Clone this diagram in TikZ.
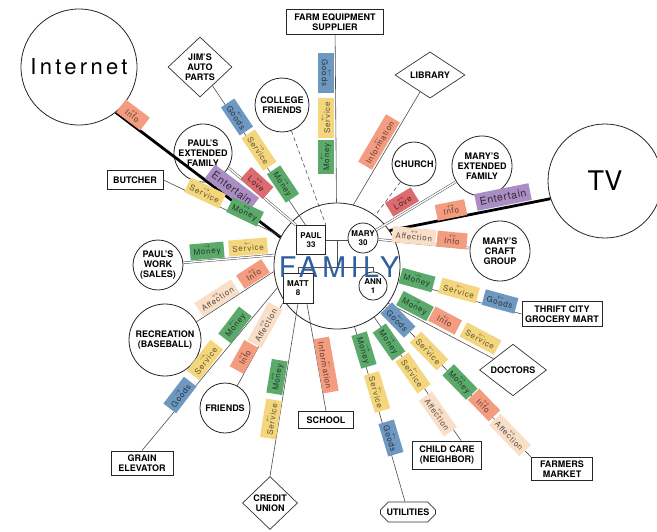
\documentclass[tikz,border=0pt]{standalone}
\usepackage{fontspec}
\setmainfont{TeX Gyre Heros}
\usetikzlibrary{shapes.geometric,shapes.misc}
\definecolor{cmoney}{HTML}{5BAA6C}
\definecolor{cservice}{HTML}{F4D67E}
\definecolor{cgoods}{HTML}{6E98C0}
\definecolor{cinfo}{HTML}{F39C80}
\definecolor{caff}{HTML}{FADFC8}
\definecolor{clove}{HTML}{DC6B70}
\definecolor{cent}{HTML}{A98DC3}
\definecolor{cfam}{HTML}{2F609E}
\newcommand\nodefont{\fontsize{9}{10}\selectfont\bfseries}
\newcommand\membfont{\fontsize{8}{9}\selectfont\bfseries}
\newcommand\labfont{\fontsize{8}{8}\selectfont\addfontfeature{LetterSpace=10}}
\newcommand\entfont{\fontsize{10.5}{10.5}\selectfont\addfontfeature{LetterSpace=6}}
\newcommand\famfont{\fontsize{28.5}{28.5}\selectfont\addfontfeature{LetterSpace=16}}
\newcommand\netfont{\fontsize{22}{22}\selectfont\addfontfeature{LetterSpace=15}}
\newcommand\arL{$\leftarrow$}
\newcommand\arR{$\rightarrow$}
\newcommand\arB{$\leftrightarrow$}
\newcommand\lbl[2]{{\fontsize{6}{6}\selectfont #1}\\[-2pt]#2}
\tikzset{
  circ/.style={circle, draw=black!85, line width=0.8pt, fill=white, inner sep=0pt, align=center, font=\nodefont},
  boxn/.style={rectangle, draw=black!85, line width=1pt, fill=white, inner sep=1pt, align=center, font=\nodefont},
  diam/.style={diamond, draw=black!80, line width=0.7pt, fill=white, inner sep=0pt, align=center, font=\nodefont},
  utilshape/.style={chamfered rectangle, chamfered rectangle xsep=5pt, draw=black!80, line width=0.8pt, fill=white, inner sep=1pt, align=center, font=\nodefont},
  memb/.style={draw=black!85, line width=0.8pt, fill=white, inner sep=0pt, align=center, font=\membfont},
  conn/.style={draw=black!70, line width=0.6pt},
  dblconn/.style={draw=black!70, line width=0.5pt, double=white, double distance=1.4pt},
  heavy/.style={draw=black, line width=2.8pt},
  dashconn/.style={conn, dash pattern=on 4pt off 3pt},
  lab/.style={inner xsep=3.5pt, inner ysep=0.5pt, minimum width=30pt, minimum height=16pt, font=\labfont, align=center},
  lmoney/.style={lab, fill=cmoney, text=cmoney!35!black},
  lservice/.style={lab, fill=cservice, text=cservice!40!black},
  lgoods/.style={lab, fill=cgoods, text=cgoods!35!black},
  linfo/.style={lab, fill=cinfo, text=cinfo!40!black},
  laff/.style={lab, fill=caff, text=caff!35!black},
  llove/.style={lab, fill=clove, text=clove!35!black},
  lent/.style={inner xsep=4pt, inner ysep=0.5pt, minimum height=17pt, fill=cent, text=cent!30!black, font=\entfont}
}
\begin{document}
\begin{tikzpicture}[x=1pt,y=-1pt]
\useasboundingbox (0,0) rectangle (657,531);
% outer nodes
\node[circ, minimum size=116pt, font=\netfont] (internet) at (79,67) {Internet};
\node[circ, minimum size=114pt, font=\fontsize{27}{27}\selectfont] (tv) at (605,181) {TV};
\node[diam, minimum width=64pt, minimum height=60pt] (jim) at (200,67) {JIM'S\\AUTO\\PARTS};
\node[boxn, minimum width=97pt, minimum height=25pt] (farm) at (335,22) {FARM EQUIPMENT\\SUPPLIER};
\node[circ, minimum size=54pt] (college) at (282,105) {COLLEGE\\FRIENDS};
\node[diam, minimum width=70pt, minimum height=38pt] (library) at (430,75) {LIBRARY};
\node[circ, minimum size=44pt] (church) at (414,164) {CHURCH};
\node[circ, minimum size=60pt] (maryext) at (482,166) {MARY'S\\EXTENDED\\FAMILY};
\node[circ, minimum size=60pt] (craft) at (500,251) {MARY'S\\CRAFT\\GROUP};
\node[boxn, minimum width=80pt, minimum height=25pt] (thrift) at (562,314) {THRIFT CITY\\GROCERY MART};
\node[diam, minimum width=67pt, minimum height=40pt] (doctors) at (513,370) {DOCTORS};
\node[boxn, minimum width=61pt, minimum height=23pt] (farmers) at (562,469) {FARMERS\\MARKET};
\node[boxn, minimum width=69pt, minimum height=28pt] (childcare) at (447,455) {CHILD CARE\\(NEIGHBOR)};
\node[utilshape, minimum width=55pt, minimum height=20pt] (utilities) at (408,512) {UTILITIES};
\node[boxn, minimum width=55pt, minimum height=17pt] (school) at (326,420) {SCHOOL};
\node[diam, minimum width=55pt, minimum height=53pt] (credit) at (270,503) {CREDIT\\UNION};
\node[circ, minimum size=50pt] (friends) at (225,408) {FRIENDS};
\node[boxn, minimum width=62pt, minimum height=24pt] (grain) at (142,463) {GRAIN\\ELEVATOR};
\node[circ, minimum size=72pt] (recreation) at (165,340) {RECREATION\\(BASEBALL)};
\node[circ, minimum size=50pt] (paulswork) at (158,265) {PAUL'S\\WORK\\(SALES)};
\node[boxn, minimum width=56pt, minimum height=19pt] (butcher) at (135,180) {BUTCHER};
\node[circ, minimum size=58pt] (paulext) at (203,153) {PAUL'S\\EXTENDED\\FAMILY};
% family circle and members
\node[circle, draw=black!85, line width=0.8pt, fill=white, minimum size=126pt, inner sep=0pt] (fam) at (337,266) {};
\node[memb, rectangle, minimum size=29pt] (paul) at (311,240) {PAUL\\33};
\node[memb, circle, minimum size=30pt] (mary) at (363,238) {MARY\\30};
\node[memb, rectangle, minimum size=30pt] (matt) at (298,288) {MATT\\8};
\node[memb, circle, minimum size=28pt] (ann) at (373,286) {ANN\\1};
% connectors
\draw[heavy] (internet.-51) -- (fam.153);
\draw[heavy] (tv.198) -- (fam.34);
\draw[conn] (jim) -- (paul.110);
\draw[conn] (farm) -- (fam);
\draw[dashconn] (college) -- (paul.north east);
\draw[conn] (library) -- (fam.75);
\draw[dashconn] (church) -- (fam);
\draw[dblconn] (maryext) -- (mary);
\draw[dblconn] (craft) -- (mary);
\draw[conn] (thrift.west) -- (fam.-13);
\draw[conn] (doctors.150) -- (fam.-36);
\draw[conn] (farmers.north west) -- (fam.-40);
\draw[conn] ([xshift=14pt]childcare.north) -- (fam.-54);
\draw[conn] (utilities) -- (fam);
\draw[conn] (school.north) -- (matt.-60);
\draw[conn] (credit.north) -- (matt.south);
\draw[conn] (friends) -- (matt.south west);
\draw[conn] (grain.north) -- (fam.200);
\draw[conn] (recreation.30) -- (fam.185);
\draw[dblconn] (paulswork) -- (fam.170);
\draw[conn] (butcher.east) -- (fam.152);
\draw[dblconn] (paulext.-30) -- (paul.north west);
% family tree
\coordinate (mid) at (337,240);
\coordinate (bar) at (337,267);
\draw[conn] (paul.east) -- (mary.west |- paul.east);
\draw[conn] (mid) -- (bar);
\draw[conn] (matt.north) -- (matt.north |- bar) -- (ann.north |- bar) -- (ann.north);
% labels: Internet
\node[linfo, rotate=-37.1] (iinfo) at (133,115) {\lbl\arB{Info}};
\node[lent, rotate=-37.1] (ient) at (232,188) {Entertain};
% TV
\node[lent, rotate=11.3] (tent) at (503,197) {Entertain};
\node[linfo, rotate=11.3] (tinfo) at (451,210) {\lbl\arB{Info}};
% Jim
\node[lgoods, rotate=-56.3] (jg) at (237,117) {\lbl\arL{Goods}};
\node[lservice, rotate=-56.3] (js) at (259,150) {\lbl\arR{Service}};
\node[lmoney, rotate=-56.3] (jm) at (283,184) {\lbl\arR{Money}};
% Farm
\node[lgoods, rotate=-90, minimum width=40pt] (fg) at (326,73) {\lbl\arL{Goods}};
\node[lservice, rotate=90, minimum width=40pt] (fs) at (326,118) {\lbl\arL{Service}};
\node[lmoney, rotate=90] (fm) at (326,157) {\lbl\arL{Money}};
% Paul's extended family
\node[llove, rotate=-42] (pl) at (257,183) {\lbl\arB{Love}};
% Butcher
\node[lservice, rotate=-25.5] (bs) at (205,193) {\lbl\arR{Service}};
\node[lmoney, rotate=-25.5] (bm) at (245,212) {\lbl\arB{Money}};
% Paul's work
\node[lmoney, rotate=4.8] (wm) at (207,251) {\lbl\arR{Money}};
\node[lservice, rotate=4.8] (ws) at (248,247) {\lbl\arL{Service}};
% Recreation
\node[laff, rotate=32.9] (ra) at (217,298) {\lbl\arB{Affection}};
\node[linfo, rotate=32.9] (ri) at (253,274) {\lbl\arB{Info}};
% Grain elevator
\node[lgoods, rotate=52.6] (gg) at (180,395) {\lbl\arR{Goods}};
\node[lservice, rotate=52.6] (gs) at (205,360) {\lbl\arR{Service}};
\node[lmoney, rotate=52.6] (gm) at (235,325) {\lbl\arL{Money}};
% Friends
\node[linfo, rotate=61] (fi) at (244,357) {\lbl\arB{Info}};
\node[laff, rotate=61] (fa) at (265,325) {\lbl\arB{Affection}};
% Credit union
\node[lmoney, rotate=80.8] (cm) at (277,377) {\lbl\arB{Money}};
\node[lservice, rotate=80.8] (cs) at (271,419) {\lbl\arL{Service}};
% School
\node[linfo, rotate=-79.9] (si) at (326,365) {\lbl\arL{Information}};
% Utilities
\node[lmoney, rotate=-73.3] (um) at (364,350) {\lbl\arR{Money}};
\node[lservice, rotate=-73.3] (us) at (377,392) {\lbl\arL{Service}};
\node[lgoods, rotate=-73.3] (ug) at (391,438) {\lbl\arL{Goods}};
% Child care
\node[lmoney, rotate=-55] (chm) at (389,342) {\lbl\arR{Money}};
\node[lservice, rotate=-55] (chs) at (413,373) {\lbl\arL{Service}};
\node[laff, rotate=-55] (cha) at (438,414) {\lbl\arB{Affection}};
% Farmers market
\node[lgoods, rotate=-45.9] (mg) at (398,320) {\lbl\arL{Goods}};
\node[lservice, rotate=-45.9] (ms) at (429,351) {\lbl\arL{Service}};
\node[lmoney, rotate=-45.9] (mm) at (460,382) {\lbl\arB{Money}};
\node[linfo, rotate=-45.9] (mi) at (484,405) {\lbl\arB{Info}};
\node[laff, rotate=-45.9] (ma) at (510,435) {\lbl\arB{Affection}};
% Doctors
\node[lmoney, rotate=-27.8] (dm) at (415,306) {\lbl\arR{Money}};
\node[linfo, rotate=-27.8] (di) at (445,320.5) {\lbl\arL{Info}};
\node[lservice, rotate=-27.8] (ds) at (480.5,338.5) {\lbl\arL{Service}};
% Thrift city
\node[lmoney, rotate=-15.3] (tm) at (417,280) {\lbl\arR{Money}};
\node[lservice, rotate=-15.3] (ts) at (459,290.5) {\lbl\arL{Service}};
\node[lgoods, rotate=-15.3] (tg) at (500,301.5) {\lbl\arL{Goods}};
% Mary's craft group
\node[laff, rotate=-5.4] (ka) at (414,236) {\lbl\arB{Affection}};
\node[linfo, rotate=-5.4] (ki) at (452,240) {\lbl\arB{Info}};
% Mary's extended family
\node[llove, rotate=31.2] (ml) at (402,202) {\lbl\arB{Love}};
% Library
\node[linfo, rotate=59.5] (li) at (379,142) {\lbl\arL{Information}};
% family title
\node[font=\famfont, text=cfam, inner sep=0pt] (famtext) at (339,267) {FAMILY};
\end{tikzpicture}
\end{document}
